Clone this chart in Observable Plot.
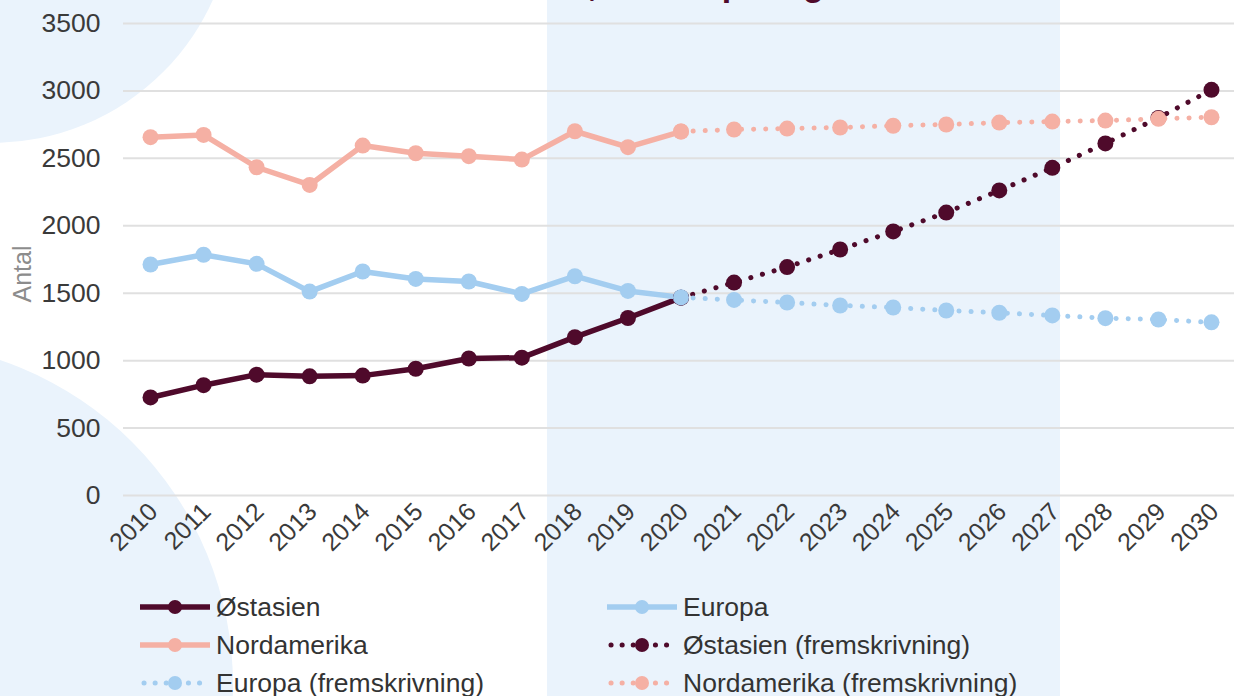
<!DOCTYPE html>
<html>
<head>
<meta charset="utf-8">
<script src="https://cdn.jsdelivr.net/npm/d3@7"></script>
<script src="https://cdn.jsdelivr.net/npm/@observablehq/plot@0.6"></script>
<style>
  html, body { margin: 0; padding: 0; }
  body { width: 1234px; height: 696px; overflow: hidden; position: relative; background: #ffffff;
         font-family: "Liberation Sans", Arial, sans-serif; }
  .deco { position: absolute; background: #eaf3fc; }
  #circ1 { left: -250px; top: -341px; width: 484px; height: 484px; border-radius: 50%; }
  #circ2 { left: -453px; top: 342px; width: 686px; height: 686px; border-radius: 50%; }
  #band { left: 547px; top: 0; width: 513px; height: 696px; }
  #title { position: absolute; left: 0; width: 1234px; top: -33px; text-align: center;
           font-weight: bold; font-size: 34px; line-height: 34px; color: #4f0a2b; white-space: nowrap; }
  #chart { position: absolute; left: 0; top: 0; }
  #ylabel { position: absolute; left: 22px; top: 274px; transform: translate(-50%, -50%) rotate(-90deg);
            font-size: 25px; color: #8c8c8c; white-space: nowrap; }
  #legend { position: absolute; left: 140px; top: 592px; display: grid;
            grid-template-columns: 467px 467px; row-gap: 8px; }
  .item { display: flex; align-items: center; height: 30px; font-size: 26.5px; color: #333333; white-space: nowrap; }
  .item svg { margin-right: 6px; flex: none; }
</style>
</head>
<body>
<div class="deco" id="circ1"></div>
<div class="deco" id="circ2"></div>
<div class="deco" id="band"></div>
<div id="title">Antal forskere, fordelt på region</div>
<div id="chart"></div>
<div id="ylabel">Antal</div>
<div id="legend"></div>
<script>
// ---- data ----
const yearsHist = [2010, 2011, 2012, 2013, 2014, 2015, 2016, 2017, 2018, 2019, 2020];
const yearsProj = [2020, 2021, 2022, 2023, 2024, 2025, 2026, 2027, 2028, 2029, 2030];
const xTicks = [2010, 2011, 2012, 2013, 2014, 2015, 2016, 2017, 2018, 2019, 2020,
                2021, 2022, 2023, 2024, 2025, 2026, 2027, 2028, 2029, 2030];
const yTicks = [0, 500, 1000, 1500, 2000, 2500, 3000, 3500];

const ostasien    = [727, 818, 896, 884, 889, 940, 1016, 1022, 1174, 1316, 1467];
const europa      = [1713, 1785, 1718, 1512, 1661, 1606, 1587, 1495, 1626, 1517, 1469];
const nordamerika = [2657, 2674, 2434, 2303, 2595, 2538, 2516, 2491, 2701, 2583, 2699];

const ostasienProj    = [1467, 1579, 1694, 1824, 1958, 2098, 2262, 2430, 2611, 2800, 3008];
const europaProj      = [1469, 1450, 1431, 1409, 1394, 1372, 1355, 1335, 1315, 1305, 1284];
const nordamerikaProj = [2699, 2714, 2721, 2729, 2742, 2751, 2765, 2773, 2780, 2793, 2805];

const seriesNames = ["Østasien", "Europa", "Nordamerika",
  "Østasien (fremskrivning)", "Europa (fremskrivning)", "Nordamerika (fremskrivning)"];
const colors = { "Østasien": "#4f0a2b", "Europa": "#a3cdf0", "Nordamerika": "#f5b0a4" };

const toRows = (years, vals) => years.map((year, i) => ({ year, value: vals[i] }));

const solid = [
  { name: "Østasien", rows: toRows(yearsHist, ostasien) },
  { name: "Europa", rows: toRows(yearsHist, europa) },
  { name: "Nordamerika", rows: toRows(yearsHist, nordamerika) }
];
const proj = [
  { name: "Østasien", rows: toRows(yearsProj, ostasienProj) },
  { name: "Europa", rows: toRows(yearsProj, europaProj) },
  { name: "Nordamerika", rows: toRows(yearsProj, nordamerikaProj) }
];

const marks = [
  Plot.ruleY(yTicks, { stroke: "#e0e0e0", strokeWidth: 2 }),
  Plot.axisY({ ticks: yTicks, tickFormat: d => String(d), tickSize: 0, tickPadding: 23, fontSize: 26.5,
               label: null, color: "#3a3a3a" }),
  Plot.axisX({ ticks: xTicks, tickFormat: d => String(d), tickRotate: -45, tickSize: 0, tickPadding: 12,
               dx: 3, fontSize: 25, label: null, color: "#3a3a3a" })
];
for (const s of solid) {
  marks.push(Plot.line(s.rows, { x: "year", y: "value", stroke: colors[s.name], strokeWidth: 5.5,
                                 strokeLinejoin: "round", strokeLinecap: "round" }));
  marks.push(Plot.dot(s.rows, { x: "year", y: "value", r: 8, fill: colors[s.name] }));
}
for (const s of proj) {
  marks.push(Plot.line(s.rows, { x: "year", y: "value", stroke: colors[s.name], strokeWidth: 5,
                                 strokeDasharray: "0.1 12", strokeLinecap: "round" }));
  marks.push(Plot.dot(s.rows, { x: "year", y: "value", r: 8, fill: colors[s.name] }));
}

const chart = Plot.plot({
  width: 1234, height: 560,
  marginTop: 23, marginBottom: 65, marginLeft: 123, marginRight: 0,
  style: { background: "transparent", fontFamily: "'Liberation Sans', Arial, sans-serif", overflow: "visible" },
  x: { type: "linear", domain: [2009.5, 2030.5], range: [123.5, 1237.5] },
  y: { domain: [0, 3500], range: [495, 23] },
  marks
});
document.getElementById("chart").appendChild(chart);

// ---- legend ----
const legendOrder = ["Østasien", "Europa", "Nordamerika",
  "Østasien (fremskrivning)", "Europa (fremskrivning)", "Nordamerika (fremskrivning)"];
const legend = document.getElementById("legend");
for (const name of legendOrder) {
  const base = name.replace(" (fremskrivning)", "");
  const dotted = name !== base;
  const c = colors[base];
  const item = document.createElement("div");
  item.className = "item";
  const line = dotted
    ? `<line x1="4" y1="15" x2="68" y2="15" stroke="${c}" stroke-width="5" stroke-dasharray="0.1 11" stroke-linecap="round"/>`
    : `<line x1="0" y1="15" x2="70" y2="15" stroke="${c}" stroke-width="5.5"/>`;
  item.innerHTML = `<svg width="70" height="30">${line}<circle cx="35" cy="15" r="7" fill="${c}"/></svg><span>${name}</span>`;
  legend.appendChild(item);
}
</script>
</body>
</html>
